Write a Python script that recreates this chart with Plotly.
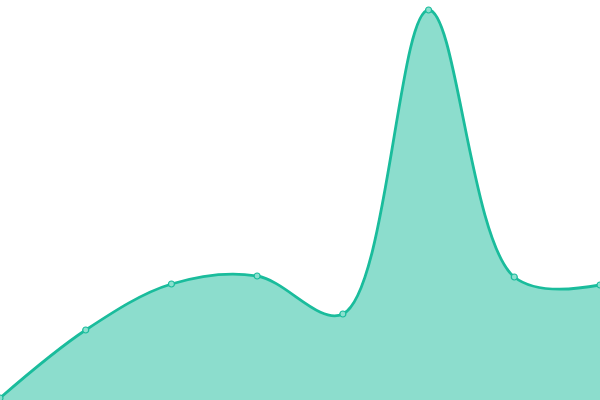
import plotly.graph_objects as go

# series (value = 400 - pixel y)
labels = ["a", "b", "c", "d", "e", "f", "g", "h"]
values = [2, 70, 116, 124, 86, 390, 123, 115]

xs = list(range(len(labels)))

fig = go.Figure()
fig.add_trace(go.Scatter(
    x=xs, y=values,
    mode="lines+markers",
    line=dict(color="#1abc9c", width=2.8, shape="spline", smoothing=1),
    fill="tozeroy", fillcolor="rgba(26,188,156,0.5)",
    marker=dict(size=6, color="#8be0cf", line=dict(color="#1abc9c", width=1.2)),
    hoverinfo="skip",
    cliponaxis=False,
))

fig.update_layout(
    width=600, height=400,
    margin=dict(l=0, r=0, t=0, b=0),
    paper_bgcolor="white", plot_bgcolor="white",
    showlegend=False,
    xaxis=dict(range=[0, len(labels) - 1], visible=False, fixedrange=True),
    yaxis=dict(range=[0, 400], visible=False, fixedrange=True),
)

# drop the browser's default body margin so the plot sits at 0,0
fig.write_html("out.html", config={"displayModeBar": False},
               post_script="document.body.style.margin='0';")
